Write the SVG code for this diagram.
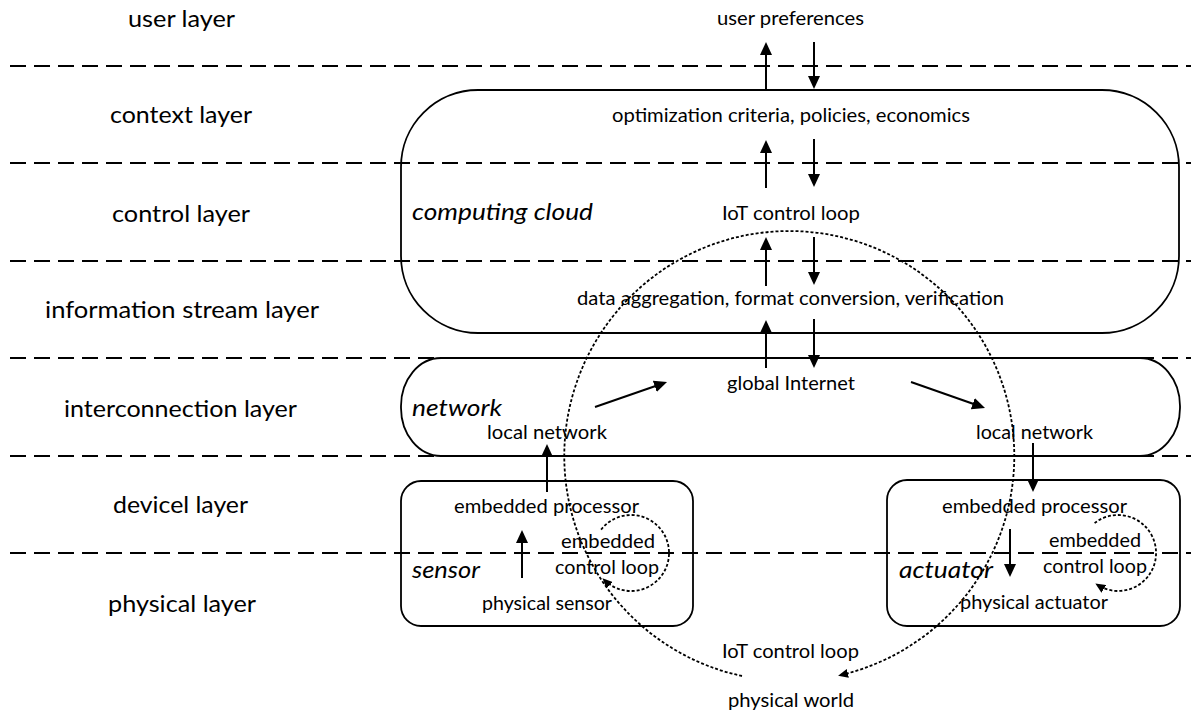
<svg xmlns="http://www.w3.org/2000/svg" width="1191" height="713" viewBox="0 0 1191 713">
<style>
  .layer { stroke:#000; stroke-width:2; stroke-dasharray:16 8; fill:none; }
  .box { stroke:#000; stroke-width:1.8; fill:none; }
  .arr { stroke:#000; stroke-width:2; fill:none; marker-end:url(#ah); }
  .dot { stroke:#000; stroke-width:1.8; stroke-dasharray:3 2; fill:none; marker-end:url(#dh); }
  text { font-family:Lato, "Open Sans", "Liberation Sans", sans-serif; fill:#000; }
  .lbl { font-size:23px; }
  .t { font-size:20px; }
  .it { font-size:23px; font-style:italic; }
</style>
<defs>
  <marker id="ah" markerUnits="userSpaceOnUse" markerWidth="13" markerHeight="12" refX="10" refY="6" orient="auto">
    <path d="M0,0 L13,6 L0,12 z" fill="#000"/>
  </marker>
  <marker id="dh" markerUnits="userSpaceOnUse" markerWidth="10" markerHeight="9" refX="7" refY="4.5" orient="auto">
    <path d="M0,0 L10,4.5 L0,9 z" fill="#000"/>
  </marker>
</defs>
<rect width="1191" height="713" fill="#fff"/>

<g id="layer-lines">
  <line class="layer" x1="10" y1="66" x2="1191" y2="66"/>
  <line class="layer" x1="10" y1="163" x2="1191" y2="163"/>
  <line class="layer" x1="10" y1="261" x2="1191" y2="261"/>
  <line class="layer" x1="10" y1="358" x2="1191" y2="358"/>
  <line class="layer" x1="10" y1="456" x2="1191" y2="456"/>
  <line class="layer" x1="10" y1="553" x2="1191" y2="553"/>
</g>

<g id="layer-labels">
  <text class="lbl" x="128" y="26.7" textLength="107" lengthAdjust="spacingAndGlyphs">user layer</text>
  <text class="lbl" x="110" y="123.3" textLength="142" lengthAdjust="spacingAndGlyphs">context layer</text>
  <text class="lbl" x="112" y="221.7" textLength="138" lengthAdjust="spacingAndGlyphs">control layer</text>
  <text class="lbl" x="45" y="318.3" textLength="274" lengthAdjust="spacingAndGlyphs">information stream layer</text>
  <text class="lbl" x="64" y="416.7" textLength="233" lengthAdjust="spacingAndGlyphs">interconnection layer</text>
  <text class="lbl" x="113" y="513.3" textLength="135" lengthAdjust="spacingAndGlyphs">devicel layer</text>
  <text class="lbl" x="108" y="611.7" textLength="148" lengthAdjust="spacingAndGlyphs">physical layer</text>
</g>

<g id="user">
  <text class="t" x="717" y="25" textLength="147" lengthAdjust="spacingAndGlyphs">user preferences</text>
</g>

<g id="cloud">
  <rect class="box" x="401" y="90" width="778" height="243" rx="77" ry="77"/>
  <text class="it" x="412" y="220" textLength="181" lengthAdjust="spacingAndGlyphs">computing cloud</text>
  <text class="t" x="612" y="121.7" textLength="358" lengthAdjust="spacingAndGlyphs">optimization criteria, policies, economics</text>
  <text class="t" x="722" y="220" textLength="138" lengthAdjust="spacingAndGlyphs">IoT control loop</text>
  <text class="t" x="577" y="305" textLength="427" lengthAdjust="spacingAndGlyphs">data aggregation, format conversion, verification</text>
</g>

<g id="network">
  <rect class="box" x="401" y="358" width="779" height="98" rx="40" ry="48"/>
  <text class="it" x="412" y="415.5" textLength="90" lengthAdjust="spacingAndGlyphs">network</text>
  <text class="t" x="727" y="390" textLength="128" lengthAdjust="spacingAndGlyphs">global Internet</text>
  <text class="t" x="487" y="439" textLength="120" lengthAdjust="spacingAndGlyphs">local network</text>
  <text class="t" x="976" y="439" textLength="117" lengthAdjust="spacingAndGlyphs">local network</text>
</g>

<g id="sensor">
  <rect class="box" x="401" y="481" width="292" height="145" rx="20" ry="20"/>
  <text class="it" x="412" y="578" textLength="68" lengthAdjust="spacingAndGlyphs">sensor</text>
  <text class="t" x="454" y="513.3" textLength="185" lengthAdjust="spacingAndGlyphs">embedded processor</text>
  <text class="t" x="561" y="547.7" textLength="94" lengthAdjust="spacingAndGlyphs">embedded</text>
  <text class="t" x="555" y="573.5" textLength="104" lengthAdjust="spacingAndGlyphs">control loop</text>
  <text class="t" x="482" y="609.5" textLength="130" lengthAdjust="spacingAndGlyphs">physical sensor</text>
</g>

<g id="actuator">
  <rect class="box" x="887" y="480" width="293" height="146" rx="20" ry="20"/>
  <text class="it" x="899" y="578" textLength="94" lengthAdjust="spacingAndGlyphs">actuator</text>
  <text class="t" x="942" y="513.3" textLength="185" lengthAdjust="spacingAndGlyphs">embedded processor</text>
  <text class="t" x="1049" y="547.3" textLength="92" lengthAdjust="spacingAndGlyphs">embedded</text>
  <text class="t" x="1043" y="573.3" textLength="104" lengthAdjust="spacingAndGlyphs">control loop</text>
  <text class="t" x="960" y="609.3" textLength="148" lengthAdjust="spacingAndGlyphs">physical actuator</text>
</g>

<g id="world">
  <text class="t" x="722" y="658" textLength="137" lengthAdjust="spacingAndGlyphs">IoT control loop</text>
  <text class="t" x="728" y="706.7" textLength="126" lengthAdjust="spacingAndGlyphs">physical world</text>
</g>

<g id="connectors">
  <line class="arr" x1="766" y1="90" x2="766" y2="45"/>
  <line class="arr" x1="814" y1="42" x2="814" y2="86"/>
  <line class="arr" x1="766" y1="188" x2="766" y2="143"/>
  <line class="arr" x1="814" y1="139" x2="814" y2="184"/>
  <line class="arr" x1="766" y1="286" x2="766" y2="240"/>
  <line class="arr" x1="814" y1="237" x2="814" y2="282"/>
  <line class="arr" x1="766" y1="368" x2="766" y2="323"/>
  <line class="arr" x1="814" y1="319" x2="814" y2="365"/>
  <line class="arr" x1="595" y1="407" x2="664.2" y2="383"/>
  <line class="arr" x1="911" y1="382" x2="982.2" y2="407"/>
  <line class="arr" x1="547" y1="492" x2="547" y2="447"/>
  <line class="arr" x1="1033" y1="443" x2="1033" y2="489"/>
  <line class="arr" x1="522" y1="578" x2="522" y2="533"/>
  <line class="arr" x1="1010" y1="529" x2="1010" y2="574"/>
  <path class="dot" d="M742,676 A225,225 0 1,1 841,675"/>
  <path class="dot" d="M601.1,529.6 A38,38 0 1,1 604.6,580.3"/>
  <path class="dot" d="M1094.6,523.1 A38,38 0 1,1 1097.9,585.2"/>
</g>
</svg>
